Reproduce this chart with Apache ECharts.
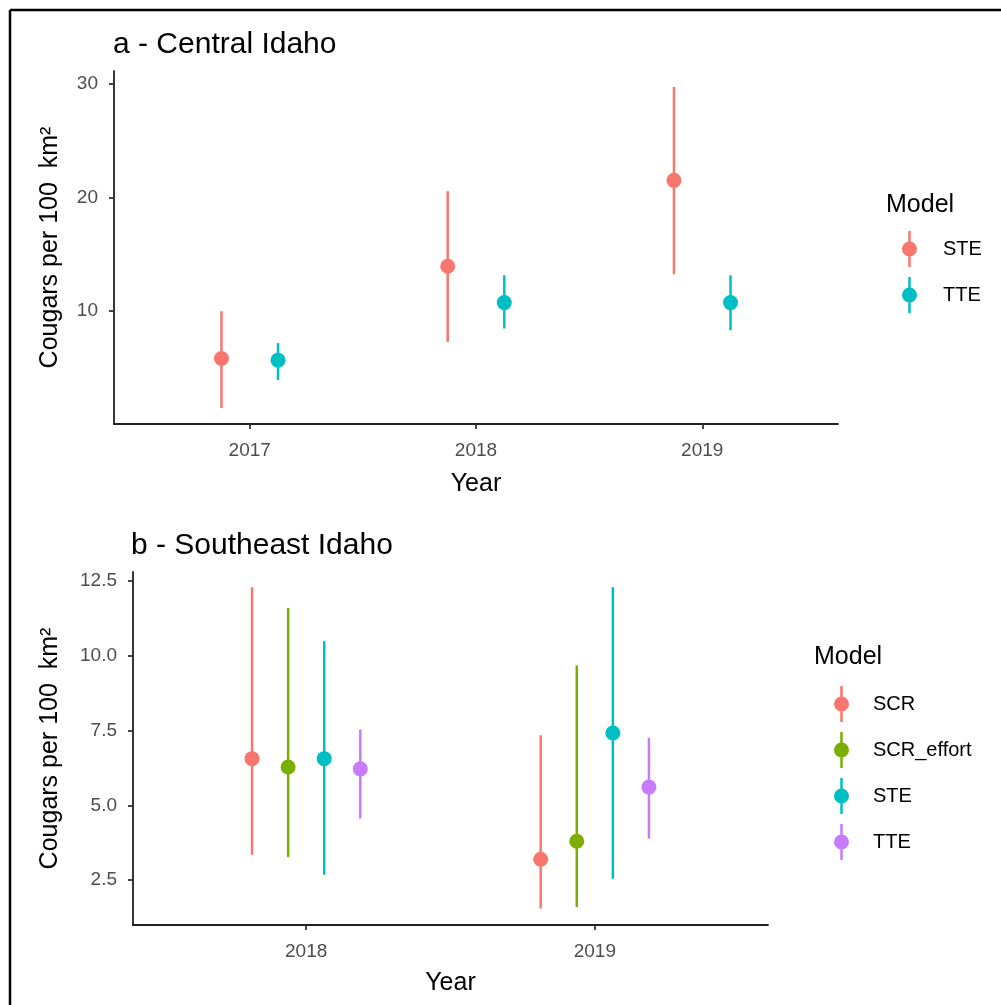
<!DOCTYPE html>
<html>
<head>
<meta charset="utf-8">
<script src="https://cdn.jsdelivr.net/npm/echarts@6/dist/echarts.min.js"></script>
<style>
  html, body { margin: 0; padding: 0; background: #fff; }
  #chart { width: 1001px; height: 1005px; }
</style>
</head>
<body>
<div id="chart"></div>
<script>
// ---------- Data ----------
// Panel a - Central Idaho
const yearsA = [2017, 2018, 2019];
const modelsA = ['STE', 'TTE'];
const colorsA = ['#F8766D', '#00BFC4'];
const estA = [[5.85, 13.95, 21.5], [5.7, 10.76, 10.76]];
const lowA = [[1.5, 7.3, 13.25], [3.95, 8.48, 8.33]];
const highA = [[10.0, 20.55, 29.7], [7.2, 13.16, 13.16]];
const yTicksA = [10, 20, 30];

// Panel b - Southeast Idaho
const yearsB = [2018, 2019];
const modelsB = ['SCR', 'SCR_effort', 'STE', 'TTE'];
const colorsB = ['#F8766D', '#7CAE00', '#00BFC4', '#C77CFF'];
const estB = [[6.56, 3.2], [6.28, 3.8], [6.56, 7.42], [6.22, 5.61]];
const lowB = [[3.35, 1.55], [3.27, 1.6], [2.68, 2.55], [4.56, 3.89]];
const highB = [[12.29, 7.34], [11.6, 9.68], [10.49, 12.29], [7.54, 7.26]];
const yTicksB = [2.5, 5.0, 7.5, 10.0, 12.5];

// ---------- Helpers ----------
const FONT = 'Liberation Sans, Arial, sans-serif';
const dodgeWidth = 0.5;
function dodge(i, n) { return (i - (n - 1) / 2) * dodgeWidth / n; }

function renderItem(params, api) {
  const x = api.value(0);
  const lo = api.coord([x, api.value(1)]);
  const mid = api.coord([x, api.value(2)]);
  const hi = api.coord([x, api.value(3)]);
  const color = api.visual('color');
  return {
    type: 'group',
    children: [
      { type: 'line', shape: { x1: lo[0], y1: lo[1], x2: hi[0], y2: hi[1] },
        style: { stroke: color, lineWidth: 2.5 } },
      { type: 'circle', shape: { cx: mid[0], cy: mid[1], r: 7.5 },
        style: { fill: color } }
    ]
  };
}

function buildSeries(prefix, models, colors, years, est, low, high, gridIdx) {
  return models.map((m, i) => ({
    type: 'custom',
    name: prefix + m,
    xAxisIndex: gridIdx,
    yAxisIndex: gridIdx,
    color: colors[i],
    itemStyle: { color: colors[i] },
    renderItem: renderItem,
    encode: { x: 0, y: [1, 2, 3] },
    data: years.map((y, j) => [y + dodge(i, models.length), low[i][j], est[i][j], high[i][j]]),
    clip: false
  }));
}

const iconPath = 'path://M6.75,0 L9.25,0 L9.25,36 L6.75,36 Z M8,10.5 A7.5,7.5 0 1 1 7.99,10.5 Z';

function yAxis(gridIdx, min, max, ticks, gap, fmt) {
  return {
    type: 'value', gridIndex: gridIdx, min: min, max: max,
    name: 'Cougars per 100  km²', nameLocation: 'middle', nameGap: gap,
    nameTextStyle: { fontFamily: FONT, fontSize: 25, color: '#000' },
    axisLine: { show: true, lineStyle: { color: '#222', width: 1.8 } },
    axisTick: { show: true, length: 5, customValues: ticks, lineStyle: { color: '#333', width: 1.8 } },
    axisLabel: { customValues: ticks, color: '#4D4D4D', fontFamily: FONT, fontSize: 19, margin: 16,
                 formatter: fmt },
    splitLine: { show: false }
  };
}
function xAxis(gridIdx, min, max, years, gap) {
  return {
    type: 'value', gridIndex: gridIdx, min: min, max: max,
    name: 'Year', nameLocation: 'middle', nameGap: gap,
    nameTextStyle: { fontFamily: FONT, fontSize: 25, color: '#000' },
    axisLine: { show: true, lineStyle: { color: '#222', width: 1.8 } },
    axisTick: { show: true, length: 5, customValues: years, lineStyle: { color: '#333', width: 1.8 } },
    axisLabel: { customValues: years, color: '#4D4D4D', fontFamily: FONT, fontSize: 19, margin: 17,
                 formatter: v => String(v) },
    splitLine: { show: false }
  };
}

const chart = echarts.init(document.getElementById('chart'), null, { renderer: 'canvas' });

const option = {
  backgroundColor: '#fff',
  animation: false,
  title: [
    { text: 'a - Central Idaho', left: 108, top: 25,
      textStyle: { fontFamily: FONT, fontSize: 30, fontWeight: 'normal', color: '#000' } },
    { text: 'b - Southeast Idaho', left: 126, top: 526,
      textStyle: { fontFamily: FONT, fontSize: 30, fontWeight: 'normal', color: '#000' } },
    { text: 'Model', left: 881, top: 188,
      textStyle: { fontFamily: FONT, fontSize: 25, fontWeight: 'normal', color: '#000' } },
    { text: 'Model', left: 809, top: 640,
      textStyle: { fontFamily: FONT, fontSize: 25, fontWeight: 'normal', color: '#000' } }
  ],
  legend: [
    { data: modelsA.map(m => ({ name: 'a:' + m, icon: iconPath })),
      orient: 'vertical', left: 897, top: 226, itemWidth: 15, itemHeight: 36, itemGap: 10,
      selectedMode: false, formatter: n => n.slice(2),
      textStyle: { fontFamily: FONT, fontSize: 20, color: '#000', padding: [0, 0, 0, 21] } },
    { data: modelsB.map(m => ({ name: 'b:' + m, icon: iconPath })),
      orient: 'vertical', left: 829, top: 681, itemWidth: 15, itemHeight: 36, itemGap: 10,
      selectedMode: false, formatter: n => n.slice(2),
      textStyle: { fontFamily: FONT, fontSize: 20, color: '#000', padding: [0, 0, 0, 19] } }
  ],
  grid: [
    { left: 114, top: 71, width: 724, height: 353 },
    { left: 133, top: 572, width: 635, height: 353 }
  ],
  xAxis: [
    xAxis(0, 2016.4, 2019.6, yearsA, 48),
    xAxis(1, 2017.4, 2019.6, yearsB, 46)
  ],
  yAxis: [
    yAxis(0, 0.09, 31.11, yTicksA, 51, v => String(v)),
    yAxis(1, 1.0, 12.8, yTicksB, 70, v => v.toFixed(1))
  ],
  graphic: [
    { type: 'line', shape: { x1: 10, y1: 10, x2: 1001, y2: 10 }, style: { stroke: '#000', lineWidth: 2.5 } },
    { type: 'line', shape: { x1: 10, y1: 10, x2: 10, y2: 1005 }, style: { stroke: '#000', lineWidth: 2.5 } }
  ],
  series: [
    ...buildSeries('a:', modelsA, colorsA, yearsA, estA, lowA, highA, 0),
    ...buildSeries('b:', modelsB, colorsB, yearsB, estB, lowB, highB, 1)
  ]
};
chart.setOption(option);
</script>
</body>
</html>
